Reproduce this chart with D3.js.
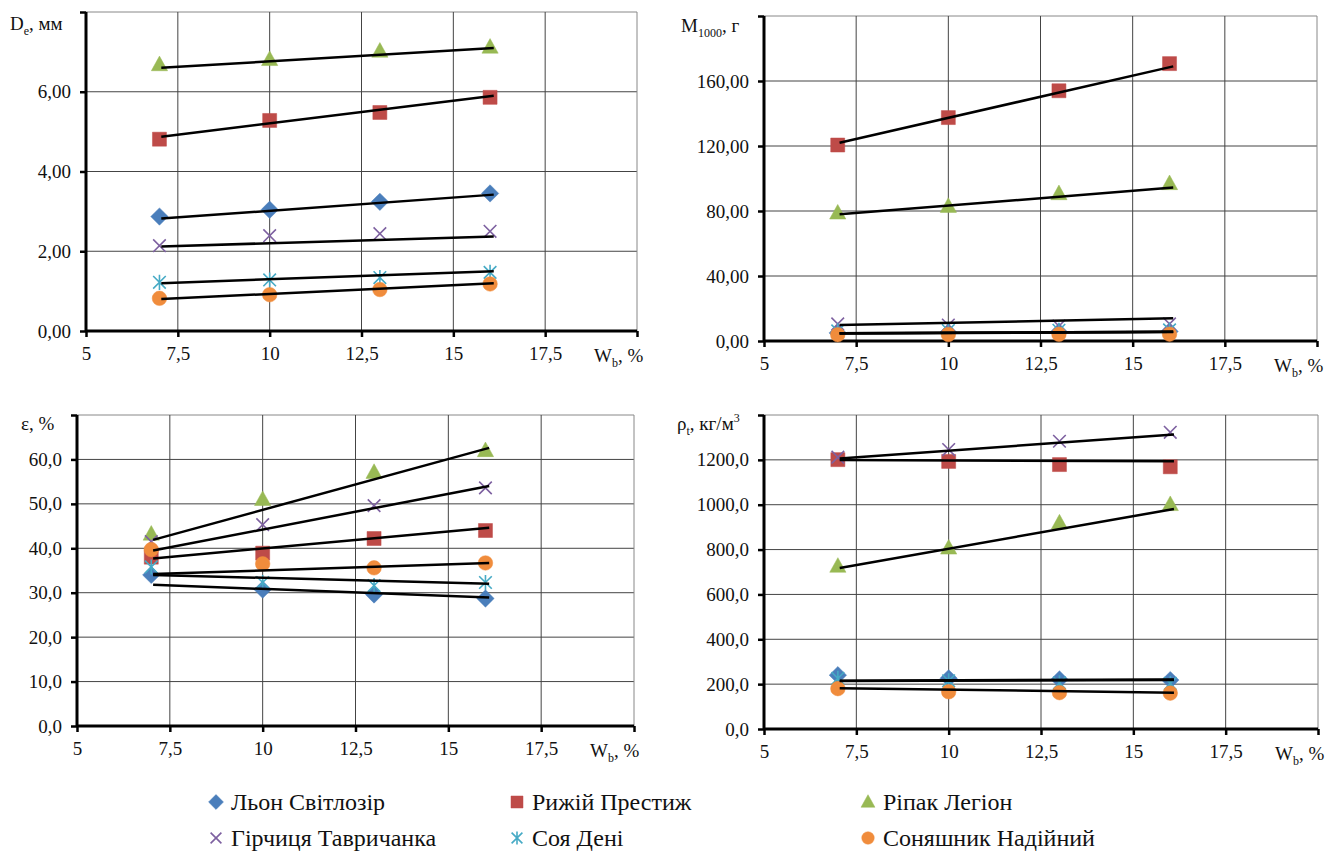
<!DOCTYPE html>
<html>
<head>
<meta charset="utf-8">
<script src="https://cdn.jsdelivr.net/npm/d3@7"></script>
<style>
  html, body { margin: 0; padding: 0; background: #fff; }
  svg, svg text { font-family: "Liberation Serif", "Tinos", "DejaVu Serif", "Noto Serif", serif !important; }
</style>
</head>
<body>
<svg id="chart" width="1330" height="854"></svg>
<script>
// ---------------- DATA ----------------
const moisture = [7, 10, 13, 16];               // W_b, %
const trendRange = [7.05, 16.1];
const seriesNames = ["Льон Світлозір", "Рижій Престиж", "Ріпак Легіон",
                     "Гірчиця Тавричанка", "Соя Дені", "Соняшник Надійний"];
const seriesColors = ["#4A7EBB", "#BE4B48", "#98B954", "#7D60A0", "#46AAC5", "#F08C3C"];
const seriesMarkers = ["diamond", "square", "triangle", "x", "star", "circle"];
const xTickValues = [5, 7.5, 10, 12.5, 15, 17.5, 20];

// Panel 1: D_e, мм
const deValues = [
  [2.87, 3.04, 3.24, 3.45],
  [4.81, 5.28, 5.48, 5.86],
  [6.68, 6.81, 7.02, 7.12],
  [2.14, 2.39, 2.44, 2.50],
  [1.22, 1.28, 1.34, 1.47],
  [0.82, 0.91, 1.04, 1.18]
];
const deTrend = [[2.82, 3.42], [4.87, 5.90], [6.60, 7.10], [2.12, 2.37], [1.20, 1.50], [0.80, 1.20]];
const deTicks = [0, 2, 4, 6, 8];

// Panel 2: M1000, г
const mValues = [
  [5.0, 5.3, 5.6, 5.9],
  [120.6, 137.5, 154.0, 170.7],
  [78.8, 82.9, 90.7, 96.9],
  [10.5, 9.8, 9.2, 10.5],
  [6.2, 6.4, 6.6, 6.8],
  [3.9, 4.0, 4.1, 4.2]
];
const mTrend = [[4.8, 5.7], [122, 169], [78, 94.4], [9.8, 14.0], [4.7, 5.7], [4.6, 5.6]];
const mTicks = [0, 40, 80, 120, 160, 200];

// Panel 3: ε, %
const epsValues = [
  [34.0, 30.7, 29.6, 28.7],
  [38.0, 38.9, 42.2, 44.0],
  [43.2, 51.0, 57.1, 62.0],
  [41.5, 45.3, 49.6, 53.6],
  [35.8, 32.3, 31.6, 32.3],
  [39.7, 36.5, 35.6, 36.7]
];
const epsTrend = [[31.8, 28.9], [37.7, 44.6], [41.9, 62.6], [39.5, 54.0], [34.0, 32.0], [34.2, 36.7]];
const epsTicks = [0, 10, 20, 30, 40, 50, 60, 70];

// Panel 4: ρ_t, кг/м³
const rhoValues = [
  [240, 226, 221, 218],
  [1201, 1193, 1179, 1169],
  [726, 807, 919, 1001],
  [1212, 1246, 1283, 1323],
  [226, 215, 206, 203],
  [180, 166, 162, 160]
];
const rhoTrend = [[215, 221], [1199, 1194], [718, 981], [1206, 1313], [214, 219], [182, 162]];
const rhoTicks = [0, 200, 400, 600, 800, 1000, 1200, 1400];

// ---------------- LAYOUT ----------------
const FONT = "'Liberation Serif', Tinos, 'DejaVu Serif', 'Noto Serif', serif";
const panels = [
  { values: deValues, trend: deTrend, ticks: deTicks, dec: 2,
    x0: 86, x1: 637, yTop: 12, yBot: 331,
    title: [["D", 0], ["e", 1], [", мм", 0]], tx: 10, ty: 30,
    xl: 594, xlY: 362 },
  { values: mValues, trend: mTrend, ticks: mTicks, dec: 2,
    x0: 764, x1: 1317, yTop: 16, yBot: 341,
    title: [["M", 0], ["1000", 1], [", г", 0]], tx: 681, ty: 32,
    xl: 1274, xlY: 372 },
  { values: epsValues, trend: epsTrend, ticks: epsTicks, dec: 1,
    x0: 77, x1: 634, yTop: 415, yBot: 726,
    title: [["ε, %", 0]], tx: 21, ty: 430,
    xl: 590, xlY: 757 },
  { values: rhoValues, trend: rhoTrend, ticks: rhoTicks, dec: 1,
    x0: 764, x1: 1318, yTop: 415, yBot: 729,
    title: [["ρ", 0], ["t", 1], [", кг/м", 0], ["3", 2]], tx: 677, ty: 430,
    xl: 1275, xlY: 760 }
];

const svg = d3.select("#chart");
const fmtNum = (v, d) => d3.format("." + d + "f")(v).replace(".", ",");
const fmtX = v => String(v).replace(".", ",");

function markerPath(type, s) {
  const p = d3.path();
  if (type === "diamond") {
    const r = s * 0.62;
    p.moveTo(0, -r); p.lineTo(r, 0); p.lineTo(0, r); p.lineTo(-r, 0); p.closePath();
    return p.toString();
  }
  if (type === "square") {
    const r = s * 0.5;
    p.rect(-r, -r, 2 * r, 2 * r);
    return p.toString();
  }
  if (type === "triangle") {
    const r = s * 0.58;
    p.moveTo(0, -r * 1.05); p.lineTo(r, r * 0.75); p.lineTo(-r, r * 0.75); p.closePath();
    return p.toString();
  }
  if (type === "circle") {
    p.arc(0, 0, s * 0.52, 0, 2 * Math.PI);
    return p.toString();
  }
  if (type === "x") {
    const r = s * 0.45;
    p.moveTo(-r, -r); p.lineTo(r, r); p.moveTo(r, -r); p.lineTo(-r, r);
    return p.toString();
  }
  if (type === "star") {
    const r = s * 0.45;
    p.moveTo(-r, -r); p.lineTo(r, r); p.moveTo(r, -r); p.lineTo(-r, r);
    p.moveTo(0, -r * 1.2); p.lineTo(0, r * 1.2);
    return p.toString();
  }
}
function drawMarker(g, type, color, x, y, s) {
  const stroked = (type === "x" || type === "star");
  g.append("path")
    .attr("d", markerPath(type, s))
    .attr("transform", `translate(${x},${y})`)
    .attr("fill", stroked ? "none" : color)
    .attr("stroke", color)
    .attr("stroke-width", stroked ? 1.6 : 0.5);
}

panels.forEach(P => {
  const yMax = P.ticks[P.ticks.length - 1];
  const x = d3.scaleLinear().domain([5, 20]).range([P.x0, P.x1]);
  const y = d3.scaleLinear().domain([0, yMax]).range([P.yBot, P.yTop]);
  const g = svg.append("g");

  // grid
  g.append("g").selectAll("line").data(P.ticks.slice(1)).join("line")
    .attr("x1", P.x0).attr("x2", P.x1)
    .attr("y1", d => y(d)).attr("y2", d => y(d))
    .attr("stroke", d => d === yMax ? "#888" : "#444").attr("stroke-width", 1);
  g.append("g").selectAll("line").data(xTickValues.slice(1)).join("line")
    .attr("x1", d => x(d)).attr("x2", d => x(d))
    .attr("y1", P.yTop).attr("y2", P.yBot)
    .attr("stroke", d => d === 20 ? "#888" : "#444").attr("stroke-width", 1);

  // y axis
  const yAxis = d3.axisLeft(y).tickValues(P.ticks).tickSize(6)
    .tickFormat(d => d === yMax ? "" : fmtNum(d, P.dec));
  const ya = g.append("g").attr("transform", `translate(${P.x0},0)`).call(yAxis)
    .attr("font-family", FONT).attr("font-size", 19);
  ya.select(".domain").attr("stroke", "#000").attr("stroke-width", 3)
    .attr("d", `M0,${P.yTop}V${P.yBot}`);
  ya.selectAll(".tick line").attr("stroke", "#000").attr("stroke-width", 2.5);
  ya.selectAll(".tick text").attr("x", -15).attr("fill", "#111");

  // x axis
  const xAxis = d3.axisBottom(x).tickValues(xTickValues).tickSize(6)
    .tickFormat(d => d === 20 ? "" : fmtX(d));
  const xa = g.append("g").attr("transform", `translate(0,${P.yBot})`).call(xAxis)
    .attr("font-family", FONT).attr("font-size", 19);
  xa.select(".domain").attr("stroke", "#000").attr("stroke-width", 3)
    .attr("d", `M${P.x0},0H${P.x1}`);
  xa.selectAll(".tick line").attr("stroke", "#000").attr("stroke-width", 2.5);
  xa.selectAll(".tick text").attr("y", 16).attr("fill", "#111");

  // markers (series order; later series on top)
  P.values.forEach((vals, si) => {
    const mg = g.append("g");
    vals.forEach((v, i) => drawMarker(mg, seriesMarkers[si], seriesColors[si], x(moisture[i]), y(v), 14));
  });

  // trend lines
  P.trend.forEach(t => {
    g.append("line")
      .attr("x1", x(trendRange[0])).attr("y1", y(t[0]))
      .attr("x2", x(trendRange[1])).attr("y2", y(t[1]))
      .attr("stroke", "#000").attr("stroke-width", 2.5);
  });

  // y title
  const tt = g.append("text").attr("x", P.tx).attr("y", P.ty)
    .attr("font-family", FONT).attr("font-size", 19).attr("fill", "#111");
  let shift = 0;
  P.title.forEach(([s, k]) => {
    const target = k === 1 ? 5 : (k === 2 ? -8 : 0);
    tt.append("tspan").text(s)
      .attr("font-size", k ? 12 : 19)
      .attr("dy", target - shift);
    shift = target;
  });

  // x title
  const xt = g.append("text").attr("x", P.xl).attr("y", P.xlY)
    .attr("font-family", FONT).attr("font-size", 19).attr("fill", "#111");
  xt.append("tspan").text("W");
  xt.append("tspan").text("b").attr("font-size", 12).attr("dy", 5);
  xt.append("tspan").text(", %").attr("dy", -5);
});

// ---------------- LEGEND ----------------
const legX = [216, 517, 868];
const legY = [802, 838];
const lg = svg.append("g");
seriesNames.forEach((name, i) => {
  const cx = legX[i % 3], cy = legY[Math.floor(i / 3)];
  drawMarker(lg, seriesMarkers[i], seriesColors[i], cx, cy, 12);
  lg.append("text").attr("x", cx + 15).attr("y", cy + 8)
    .attr("font-family", FONT).attr("font-size", 24).attr("fill", "#111").text(name);
});
</script>
</body>
</html>
